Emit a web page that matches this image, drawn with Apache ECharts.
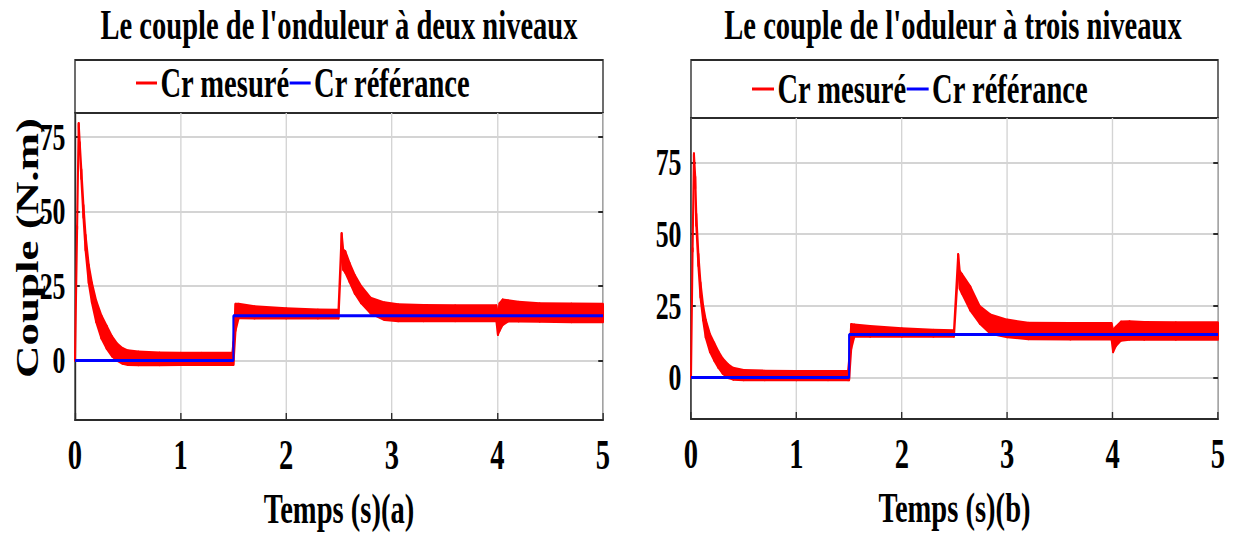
<!DOCTYPE html>
<html>
<head>
<meta charset="utf-8">
<script src="https://cdn.jsdelivr.net/npm/echarts@6/dist/echarts.min.js"></script>
<style>
  html, body { margin: 0; padding: 0; background: #fff; overflow: hidden; }
  #wrap { width: 1234px; height: 537px; overflow: hidden; }
  #chart { height: 537px; transform-origin: 0 0; }
</style>
</head>
<body>
<div id="wrap"><div id="chart"></div></div>
<script>
// Torque of the motor fed by a two-level (a) and a three-level (b) inverter.

const timeTicks = [0, 1, 2, 3, 4, 5];
const torqueTicks = [0, 25, 50, 75];

// (a) two-level inverter: measured torque envelope (upper / lower) in N.m
const tA  = [0, 0.02, 0.035, 0.045, 0.06, 0.08, 0.10, 0.13, 0.16, 0.20,
             0.25, 0.30, 0.35, 0.40, 0.45, 0.50, 0.60, 0.80, 1.00, 1.20,
             1.49, 1.50, 1.52, 1.55, 1.70, 2.00, 2.30, 2.495, 2.525, 2.54,
             2.56, 2.60, 2.65, 2.71, 2.80, 2.93, 3.06, 3.30, 3.60, 3.99,
             4.005, 4.02, 4.05, 4.10, 4.20, 4.40, 4.70, 5.00];
const upA = [0, 45, 79.5, 73, 64, 52, 42, 32, 26, 20,
             15, 11.5, 8, 5.5, 4, 3.2, 2.8, 2.5, 2.4, 2.4,
             2.4, 6, 18.8, 18.8, 18.0, 17.3, 16.9, 16.8, 42.6, 37,
             36.5, 32.6, 28.5, 24.8, 20.9, 19.3, 18.7, 18.4, 18.3, 18.3,
             15.5, 19.0, 20.3, 20.0, 19.5, 19.0, 18.9, 18.8];
const loA = [0, 44, 78.5, 71, 61, 48, 37, 26, 19.5, 13,
             7.5, 4, 1.5, 0, -1, -1.4, -1.5, -1.5, -1.4, -1.4,
             -1.4, -1.4, 10, 14.3, 14.2, 14.2, 14.2, 14.2, 38, 30.5,
             29.5, 26.4, 22.5, 19.3, 15.9, 13.7, 13.3, 13.3, 13.3, 13.3,
             8.7, 10, 12, 13.2, 13.2, 13.1, 13.0, 13.0];
// (a) reference torque
const tRefA = [0, 1.5, 1.5, 5];
const refA  = [0, 0, 15, 15];

// (b) three-level inverter: measured torque envelope (upper / lower) in N.m
const tB  = [0, 0.015, 0.028, 0.04, 0.05, 0.07, 0.09, 0.115, 0.14, 0.18,
             0.22, 0.26, 0.30, 0.35, 0.40, 0.50, 0.70, 1.00, 1.30, 1.49,
             1.50, 1.52, 1.55, 1.70, 2.00, 2.30, 2.495, 2.535, 2.55, 2.57,
             2.65, 2.74, 2.84, 3.00, 3.20, 3.60, 3.99, 4.005, 4.03, 4.08,
             4.16, 4.30, 4.60, 5.00];
const upB = [0, 45, 78, 70, 57, 43, 33, 25, 20, 15,
             12, 9, 6.5, 4.5, 3.2, 2.4, 2.2, 2.1, 2.1, 2.1,
             6, 18.5, 18.3, 17.8, 17.0, 16.5, 16.3, 42.9, 37, 36,
             31.6, 24.7, 21.8, 20.0, 18.9, 18.8, 18.8, 16.5, 17.5, 19.3,
             19.4, 19.2, 19.1, 19.1];
const loB = [0, 44, 77, 66, 53, 39, 28, 20, 14, 9,
             6, 3.5, 1.5, 0, -0.6, -0.8, -0.8, -0.8, -0.8, -0.8,
             -0.8, 10, 14.4, 14.4, 14.4, 14.4, 14.4, 38, 31, 29.4,
             23.5, 18.9, 15.4, 14.2, 13.5, 13.4, 13.4, 9.0, 11, 13,
             13.3, 13.3, 13.3, 13.3];
// (b) reference torque
const tRefB = [0, 1.5, 1.5, 5];
const refB  = [0, 0, 15, 15];

// The page is drawn wide and then condensed horizontally.
const SX = 0.68;
const W = 1234 / SX;
const X = v => v / SX;
const FONT = '"Liberation Serif", "Times New Roman", serif';

const dom = document.getElementById('chart');
dom.style.width = W + 'px';
dom.style.transform = 'scaleX(' + SX + ')';
const chart = echarts.init(dom, null, { renderer: 'svg', width: W, height: 537 });

const RED = '#ff0000', BLUE = '#0000ff', INK = '#000000', FRAME = '#2b2b2b', GRID = '#d4d4d4';

// Filled band between lower and upper envelope, one quad per sample step.
function bandRenderer(n) {
  return function (params, api) {
    const i = params.dataIndexInside;
    if (i >= n - 1) return { type: 'group', children: [] };
    const a = api.coord([api.value(0, i), api.value(2, i)]);
    const b = api.coord([api.value(0, i + 1), api.value(2, i + 1)]);
    const c = api.coord([api.value(0, i + 1), api.value(1, i + 1)]);
    const d = api.coord([api.value(0, i), api.value(1, i)]);
    return {
      type: 'polygon',
      shape: { points: [a, b, c, d] },
      style: { fill: RED, stroke: RED, lineWidth: 3, lineJoin: 'round' }
    };
  };
}

function xAxisFor(gridIndex, name) {
  return {
    gridIndex, type: 'value', min: 0, max: 5, interval: 1,
    axisLine: { show: true, onZero: false, lineStyle: { color: FRAME, width: 2 } },
    axisTick: { show: true, inside: true, length: 7, lineStyle: { color: FRAME, width: 2 } },
    axisLabel: { color: INK, fontFamily: FONT, fontWeight: 'bold', fontSize: 42, margin: 14,
                 customValues: timeTicks },
    splitLine: { show: true, lineStyle: { color: GRID, width: 2 } },
    name, nameLocation: 'middle', nameGap: 68,
    nameTextStyle: { color: INK, fontFamily: FONT, fontWeight: 'bold', fontSize: 42 }
  };
}
function yAxisLeft(gridIndex, min, max) {
  return {
    gridIndex, type: 'value', min, max, position: 'left',
    axisLine: { show: true, onZero: false, lineStyle: { color: FRAME, width: 2 } },
    axisTick: { show: true, inside: true, length: 7, lineStyle: { color: FRAME, width: 2 },
                customValues: torqueTicks },
    axisLabel: { color: INK, fontFamily: FONT, fontWeight: 'bold', fontSize: 38, margin: 14,
                 customValues: torqueTicks },
    splitLine: { show: true, lineStyle: { color: GRID, width: 2 } }
  };
}
function yAxisRight(gridIndex, min, max) {
  return {
    gridIndex, type: 'value', min, max, position: 'right',
    axisLine: { show: false, onZero: false },
    axisTick: { show: true, inside: true, length: 7, lineStyle: { color: FRAME, width: 2 },
                customValues: torqueTicks },
    axisLabel: { show: false },
    splitLine: { show: false }
  };
}

const legendText = { color: INK, fontFamily: FONT, fontWeight: 'bold', fontSize: 42 };
const legendItem = { borderWidth: 0 };

const option = {
  animation: false,
  backgroundColor: '#ffffff',
  grid: [
    { left: X(75), top: 113, width: X(528), height: 307, show: true,
      borderColor: FRAME, borderWidth: 2, backgroundColor: 'transparent' },
    { left: X(691), top: 118, width: X(527), height: 301, show: true,
      borderColor: FRAME, borderWidth: 2, backgroundColor: 'transparent' }
  ],
  xAxis: [ xAxisFor(0, 'Temps (s)(a)'), xAxisFor(1, 'Temps (s)(b)') ],
  yAxis: [ yAxisLeft(0, -20, 83), yAxisRight(0, -20, 83),
           yAxisLeft(1, -14.5, 90.5), yAxisRight(1, -14.5, 90.5) ],
  legend: [
    { left: X(136), top: 62, orient: 'horizontal', icon: 'rect', itemWidth: X(21), itemHeight: 3,
      itemGap: 0, padding: 0, itemStyle: legendItem, textStyle: legendText,
      data: ['Cr mesuré', 'Cr référance'] },
    { left: X(752), top: 68, orient: 'horizontal', icon: 'rect', itemWidth: X(22), itemHeight: 3,
      itemGap: 0, padding: 0, itemStyle: legendItem, textStyle: legendText,
      data: ['Cr mesuré', 'Cr référance'] }
  ],
  graphic: [
    { type: 'rect', z: 0, shape: { x: X(75), y: 60, width: X(528), height: 53 },
      style: { fill: '#fff', stroke: FRAME, lineWidth: 2 } },
    { type: 'rect', z: 0, shape: { x: X(691), y: 60, width: X(527), height: 58 },
      style: { fill: '#fff', stroke: FRAME, lineWidth: 2 } },
    { type: 'text', x: X(339), y: 4,
      style: { text: "Le couple de l'onduleur à deux niveaux", font: 'bold 42px ' + FONT,
               fill: INK, align: 'center', textAlign: 'center', verticalAlign: 'top', textVerticalAlign: 'top' } },
    { type: 'text', x: X(953), y: 4,
      style: { text: "Le couple de l'oduleur à trois niveaux", font: 'bold 42px ' + FONT,
               fill: INK, align: 'center', textAlign: 'center', verticalAlign: 'top', textVerticalAlign: 'top' } },
    { type: 'text', x: X(28), y: 248, rotation: Math.PI / 2,
      style: { text: 'Couple (N.m)', font: 'bold 45px ' + FONT,
               fill: INK, align: 'center', textAlign: 'center', verticalAlign: 'middle', textVerticalAlign: 'middle' } }
  ],
  series: [
    { name: 'Cr mesuré', type: 'custom', xAxisIndex: 0, yAxisIndex: 0, z: 2,
      itemStyle: { color: RED }, encode: { x: 0, y: [1, 2] },
      renderItem: bandRenderer(tA.length),
      data: tA.map((t, i) => [t, loA[i], upA[i]]) },
    { name: 'Cr référance', type: 'line', xAxisIndex: 0, yAxisIndex: 0, z: 3,
      showSymbol: false, symbol: 'none', color: BLUE, lineStyle: { color: BLUE, width: 3 },
      data: tRefA.map((t, i) => [t, refA[i]]) },
    { name: 'Cr mesuré', type: 'custom', xAxisIndex: 1, yAxisIndex: 2, z: 2,
      itemStyle: { color: RED }, encode: { x: 0, y: [1, 2] },
      renderItem: bandRenderer(tB.length),
      data: tB.map((t, i) => [t, loB[i], upB[i]]) },
    { name: 'Cr référance', type: 'line', xAxisIndex: 1, yAxisIndex: 2, z: 3,
      showSymbol: false, symbol: 'none', color: BLUE, lineStyle: { color: BLUE, width: 3 },
      data: tRefB.map((t, i) => [t, refB[i]]) }
  ]
};
chart.setOption(option);
</script>
</body>
</html>
